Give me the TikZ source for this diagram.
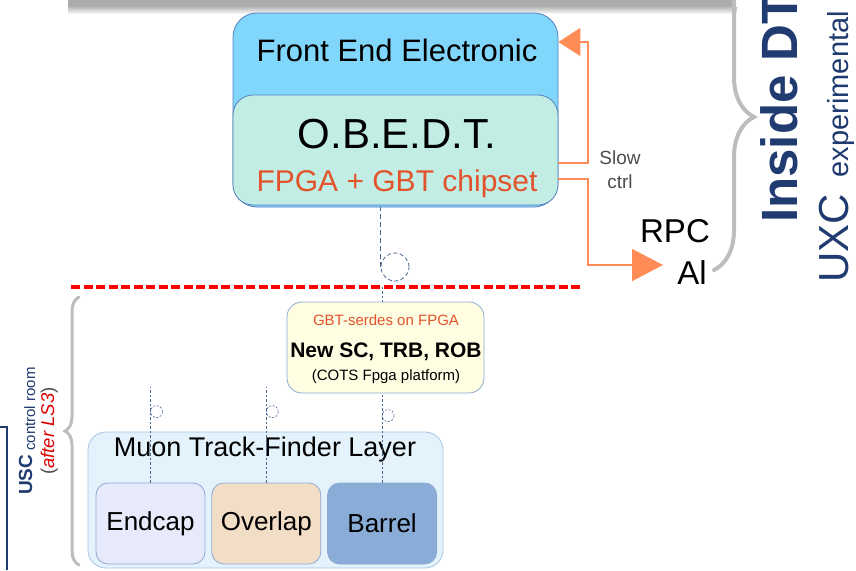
\documentclass[tikz,border=0pt]{standalone}
\usepackage{fontspec}
\setmainfont{Liberation Sans}
\usepackage{tikz}
\usetikzlibrary{positioning, arrows.meta, calc, backgrounds, decorations.pathreplacing}
\definecolor{navy}{HTML}{1F3B70}
\definecolor{feblue}{HTML}{80D6FB}
\definecolor{febord}{HTML}{5580BE}
\definecolor{obmint}{HTML}{C2EDE4}
\definecolor{ctrlorange}{HTML}{FF8C57}
\definecolor{fpgared}{HTML}{E2532B}
\definecolor{creme}{HTML}{FFFDE2}
\definecolor{boxline}{HTML}{8EAAD2}
\definecolor{layerbg}{HTML}{E3F2FB}
\definecolor{layerbd}{HTML}{A5C6E6}
\definecolor{endcapc}{HTML}{E6EAFB}
\definecolor{overlapc}{HTML}{F2DDC7}
\definecolor{barrelc}{HTML}{8AADD7}
\definecolor{braceg}{HTML}{BDBDBD}
\definecolor{linkc}{HTML}{4A6590}
\newcommand{\pxfont}[1]{\fontsize{#1}{#1}\selectfont}
\tikzset{
  febox/.style    = {rectangle, rounded corners=24pt, draw=febord, thick,
                     fill=feblue, minimum width=325pt, minimum height=194pt},
  obbox/.style    = {rectangle, rounded corners=20pt, draw=febord, thick,
                     fill=obmint, minimum width=325pt, minimum height=110pt},
  cotsbox/.style  = {rectangle, rounded corners=15pt, draw=boxline, thick,
                     fill=creme, minimum width=197pt, minimum height=91pt},
  layerbox/.style = {rectangle, rounded corners=18pt, draw=layerbd, thick,
                     fill=layerbg, minimum width=355pt, minimum height=136pt},
  tfbox/.style    = {rectangle, rounded corners=12pt, draw=boxline, thick,
                     minimum width=109pt, minimum height=81pt, font=\pxfont{26}},
  sock/.style     = {circle, draw=linkc, thick, dash pattern=on 4pt off 2.5pt,
                     minimum size=28pt, inner sep=0pt},
  smallsock/.style= {circle, draw=linkc, semithick, dash pattern=on 2pt off 1.5pt,
                     minimum size=12pt, inner sep=0pt},
  link/.style     = {draw=linkc, thick, dash pattern=on 5pt off 3pt},
  sublink/.style  = {draw=linkc, semithick, dash pattern=on 2.5pt off 2pt},
  ctrl/.style     = {draw=ctrlorange, line width=1.5pt},
  sepline/.style  = {draw=red, line width=4pt, dash pattern=on 9pt off 3.5pt},
  grbrace/.style  = {draw=braceg, decorate, line cap=round},
  rot/.style      = {rotate=90, anchor=base west, inner sep=0pt, text=navy},
}
\begin{document}
\begin{tikzpicture}[x=1pt, y=-1pt]
  \useasboundingbox (0,0) rectangle (856,570);

  % slide frame pieces
  \fill[gray!65] (68,0) rectangle (735,7);
  \shade[top color=gray!55, bottom color=white] (68,7) rectangle (737,14);
  \draw[navy, line width=1.5pt] (0,427) -- (7,427) -- (7,570);

  % front end
  \node[febox] (fee) at (395.5,110) {};
  \node[obbox] (obedt) at (395.5,150) {};
  \node[font=\pxfont{31}] (feetxt) at (397,50) {Front End Electronic};
  \node[font=\pxfont{42}] (obtxt) at (397,134) {O.B.E.D.T.};
  \node[font=\pxfont{30}, text=fpgared] (chiptxt) at (397,184) {FPGA + GBT chipset};

  % slow control and RPC
  \coordinate (sc) at (588,42);
  \coordinate (rpcin) at (663,265);
  \node[font=\fontsize{19}{24}\selectfont, text=black!70, align=center] (slow) at (620,170) {Slow\\ctrl};
  \node[font=\pxfont{33}] (rpc) at (675,231) {RPC};
  \node[font=\pxfont{33}] (al) at (692,273) {Al};
  \draw[ctrl, -{Triangle[length=22pt,width=28pt]}] ($(obedt.east)+(0,13)$) -| (sc) -- (sc -| fee.east);
  \draw[ctrl, -{Triangle[length=31pt,width=32pt]}] ($(obedt.east)+(0,29)$) -| (sc |- rpcin) -- (rpcin);

  % UXC side
  \draw[grbrace, line width=4pt, decoration={brace, amplitude=40pt}] (714,-36) -- (714,270);
  \node[rot, font=\pxfont{51}\bfseries] (inside) at (797,223) {Inside DT};
  \node[rot] (uxc) at (848,283) {\pxfont{42}UXC\hspace{17pt}\pxfont{29}experimental};

  % separation UXC / USC
  \coordinate (sepL) at (71,287);
  \coordinate (sepR) at (582,287);
  \draw[sepline] (sepL) -- (sepR);
  \node[sock] (s0) at (395,267) {};
  \draw[link] (s0.west) -- (s0.west |- fee.south);

  % track finder layer
  \node[layerbox] (layer) at (265.5,500) {};
  \node[font=\pxfont{27}] (layertxt) at (265,450) {Muon Track-Finder Layer};
  \node[tfbox, fill=endcapc] (endcap) at (150.5,523.5) {Endcap};
  \node[tfbox, fill=overlapc, right=6pt of endcap] (overlap) {Overlap};
  \node[tfbox, fill=barrelc, right=6pt of overlap] (barrel) {Barrel};

  \draw[sublink] (endcap.north) -- ++(0,-96);
  \draw[sublink] (overlap.north) -- ++(0,-96);
  \draw[sublink] (barrel.north) -- (barrel.north |- sepL);
  \node[smallsock] (s1) at ($(endcap.north)+(6,-71)$) {};
  \node[smallsock] (s2) at ($(overlap.north)+(6,-71)$) {};
  \node[smallsock] (s3) at ($(barrel.north)+(6,-67)$) {};

  % new USC boards
  \node[cotsbox] (cots) at (385.5,347.5) {};
  \node[font=\pxfont{15}, text=fpgared] (serdes) at (386,320) {GBT-serdes on FPGA};
  \node[font=\pxfont{21}\bfseries] (newsc) at (386,352) {New SC, TRB, ROB};
  \node[font=\pxfont{15}] (cotstxt) at (386,377) {(COTS Fpga platform)};

  % USC side
  \draw[grbrace, line width=3pt, decoration={brace, amplitude=14pt}] (79,565) -- (79,297);
  \node[rot] (usc) at (32,495) {{\pxfont{19}\bfseries USC}\hspace{4pt}\raisebox{-3pt}{\pxfont{15}control room}};
  \node[rot, text=black!70] (ls3) at (54,475) {\pxfont{18.5}(\textcolor{red!85!black}{\itshape after LS3})};

\end{tikzpicture}
\end{document}
